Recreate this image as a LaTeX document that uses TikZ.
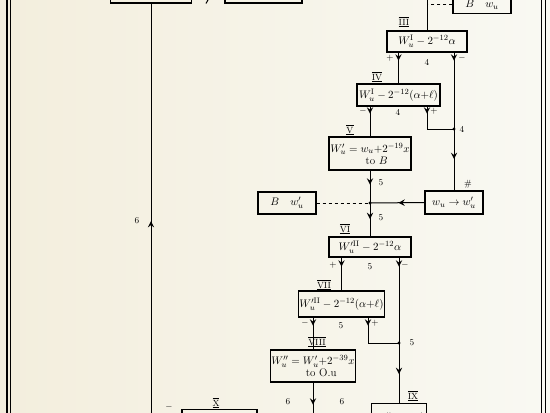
\documentclass[tikz,border=0pt]{standalone}
\usepackage{amsmath}
\usepackage{amssymb}
\usetikzlibrary{decorations.markings}

\definecolor{paperL}{HTML}{F3EEDD}
\definecolor{paperR}{HTML}{F9F9F3}

\newcommand{\rnum}[1]{$\overline{\underline{\mathrm{#1}}}$}

\tikzset{
  box/.style={draw, line width=1.3pt, inner sep=1pt, font=\fontsize{11}{12}\selectfont},
  lbl/.style={inner sep=0pt, font=\fontsize{9}{10}\selectfont},
  flow/.style={line width=1pt},
  arr at/.style={postaction={decorate},
    decoration={markings, mark=at position #1 with {\arrow[scale=1.4]{stealth}}}},
}

\begin{document}
\begin{tikzpicture}[x=1pt, y=-1pt]

\useasboundingbox (0,0) rectangle (550,413);
\clip (0,0) rectangle (550,413);

% paper and page edges
\shade [left color=paperL, right color=paperR] (0,0) rectangle (550,413);
\draw [line width=1.6pt] (7,-5) -- (7,420);
\draw [line width=0.5pt] (10,-5) -- (10,420);
\draw [line width=1.2pt] (541.5,-5) -- (541.5,420);
\draw [line width=0.5pt] (545.5,-5) -- (545.5,420);

% boxes
\node [box, minimum width=81pt, minimum height=22pt] (top1) at (151,-8) {};
\node [box, minimum width=77pt, minimum height=22pt] (top2) at (263.5,-8) {};
\node [box, minimum width=58pt, minimum height=18pt] (bw) at (482,4.5) {$B\quad w_u$};
\node [box, minimum width=80pt, minimum height=21pt] (s3) at (427,41.5) {$W^{\mathrm{I}}_u - 2^{-12}\alpha$};
\node [box, minimum width=83pt, minimum height=22pt] (s4) at (398.5,95) {$W^{\mathrm{I}}_u - 2^{-12}(\alpha{+}\ell)$};
\node [box, minimum width=82pt, minimum height=33pt, align=center] (s5) at (370,153.5)
  {$W'_u = w_u{+}2^{-19}x$\\\hspace*{1.2em}to $B$};
\node [box, minimum width=58pt, minimum height=23pt] (swap) at (454,202.5) {$w_u \to w'_u$};
\node [box, minimum width=58pt, minimum height=22pt] (bw2) at (287,203) {$B\quad w'_u$};
\node [box, minimum width=82pt, minimum height=20pt] (s6) at (370,247) {$W'^{\mathrm{II}}_u - 2^{-12}\alpha$};
\node [box, minimum width=81pt, minimum height=26pt] (s7) at (341.5,304) {$W'^{\mathrm{II}}_u - 2^{-12}(\alpha{+}\ell)$};
\node [box, minimum width=82pt, minimum height=32pt, align=center] (s8) at (313,366)
  {$W''_u = W'_u{+}2^{-39}x$\\\hspace*{1.5em}to O.u};
\node [box, minimum width=55pt, minimum height=30pt, anchor=north] (s9) at (399,403) {$W''_u \to W'_u$};
\node [box, minimum width=75pt, minimum height=22pt, anchor=north] (s10) at (219.5,409) {};

% free ends and junctions
\coordinate (in3) at (427,-10);
\coordinate (j0) at (427,4);
\coordinate (j4) at (454,129);
\coordinate (k4) at (427,129);
\coordinate (j5) at (370,203);
\coordinate (j5b) at (399,343);
\coordinate (k5) at (368,343);
\coordinate (out6) at (151,420);
\coordinate (out8) at (313,420);

% connectors
\draw [flow] (in3) -- (s3.north);
\draw [flow, dashed] (j0 -| bw.west) -- (j0);
\draw [flow, arr at=8pt] (s3.south -| s4.north) -- (s4.north);
\draw [flow, arr at=8pt] (s3.south -| j4) -- (j4);
\draw [flow, arr at=30pt] (j4) -- (swap.north);
\draw [flow, arr at=7pt] (s4.south -| s5.north) -- (s5.north);
\draw [flow, arr at=7pt] (s4.south -| k4) -- (k4) -- (j4);
\draw [flow, arr at=14pt] (s5.south) -- (j5);
\draw [flow, arr at=16pt] (j5) -- (s6.north);
\draw [flow, dashed] (bw2.east) -- (j5);
\draw [flow, arr at=26pt] (swap.west) -- (j5);
\draw [flow, arr at=9pt] (s6.south -| s7.north) -- (s7.north);
\draw [flow, arr at=9pt] (s6.south -| j5b) -- (j5b);
\draw [flow, arr at=31pt] (j5b) -- (s9.north);
\draw [flow, arr at=8pt] (s7.south -| s8.north) -- (s8.north);
\draw [flow, arr at=8pt] (s7.south -| k5) -- (k5) -- (j5b);
\draw [flow, arr at=22pt] (s8.south) -- (out8);
\draw [flow, arr at=199pt] (out6) -- (top1.south);
\draw [flow] (206,3.5) -- (208.5,-1);

\foreach \p in {j4, j5, j5b}
  \fill (\p) circle (1.7pt);

% box numbers
\foreach \x/\y/\r [count=\i] in {404/22/III, 377/77/IV, 350/130/V, 345/229/VI,
    324/285/VII, 317/342/VIII, 413/396/IX, 216/403/X}
  \node [lbl] (rn\i) at (\x,\y) {\rnum{\r}};
\node [lbl] (hash) at (468,184) {$\#$};

% intervals
\foreach \x/\y/\t [count=\i] in {427/63/4, 398/113/4, 462/130/4, 381/183/5, 381/218/5,
    370/267/5, 341/326/5, 412/343/5, 137/221/6, 288/402/6, 342/402/6}
  \node [lbl] (iv\i) at (\x,\y) {$\t$};

% signs
\foreach \x/\y/\t [count=\i] in {390/58/+, 462/58/-, 363/111/-, 434/111/+, 333/265/+,
    405/265/-, 305/323/-, 375/323/+, 169/407/-}
  \node [lbl] (sg\i) at (\x,\y) {$\t$};

\end{tikzpicture}
\end{document}
